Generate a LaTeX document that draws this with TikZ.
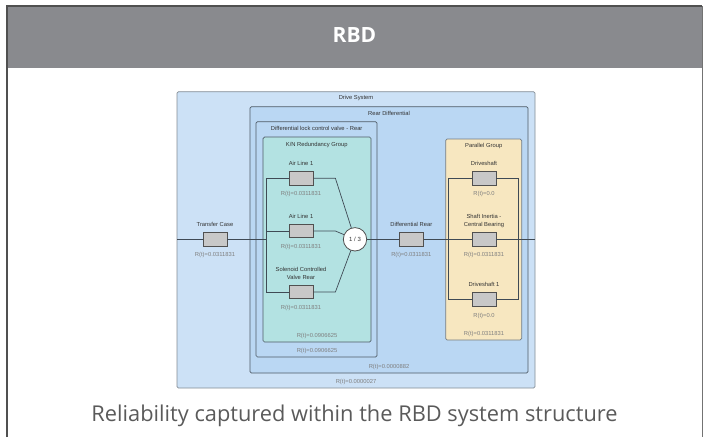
\documentclass[tikz,border=0pt]{standalone}
\usepackage{fontspec}
\setmainfont{Liberation Sans}
\newfontfamily\headfont{Open Sans}
\usetikzlibrary{positioning}
\definecolor{hdgray}{HTML}{898A8E}
\definecolor{framegray}{HTML}{505050}
\definecolor{drivefill}{HTML}{CCE1F6}
\definecolor{reardiff}{HTML}{BAD7F3}
\definecolor{knteal}{HTML}{B3E2E2}
\definecolor{parfill}{HTML}{F7E7C0}
\definecolor{compgray}{HTML}{C8C8C8}
\definecolor{grpline}{HTML}{4F5B66}
\definecolor{wiregray}{HTML}{3F4A55}
\definecolor{lblgray}{HTML}{333333}
\definecolor{valgray}{HTML}{7F7F7F}
\definecolor{capgray}{HTML}{5A5A5A}
\begin{document}
\begin{tikzpicture}[x=1pt,y=-1pt,
        comp/.style={draw=framegray,fill=compgray,line width=.8pt,minimum width=24pt,minimum height=13.3pt,inner sep=0pt},
        lbl/.style={font=\fontsize{5.8}{7.8}\selectfont,text=lblgray,align=center,inner sep=0pt,text depth=0pt},
        rval/.style={font=\fontsize{5.8}{7}\selectfont,text=valgray,inner sep=0pt,text height=4.2pt},
        grp/.style={rounded corners=1.5pt,draw=grpline,line width=.7pt},
        wire/.style={draw=wiregray,line width=.7pt}]
    \useasboundingbox (0,0) rectangle (703,437);
    \fill[hdgray] (6,6) rectangle (702,68);
    \draw[framegray,line width=2pt] (7,437) -- (7,6) -- (702,6);
    \draw[framegray!80,line width=.8pt] (702.3,6) -- (702.3,437);
    \node[font=\headfont\bfseries\fontsize{21}{24}\selectfont,text=white] (title) at (354.5,35) {RBD};
    % groups
    \draw[grp,draw=grpline!70,fill=drivefill] (177,91.7) rectangle (535,388);
    \draw[grp,fill=reardiff] (250,106.7) rectangle (528,373);
    \draw[grp,fill=reardiff] (256,121.7) rectangle (377,357);
    \draw[grp,fill=knteal] (263,137) rectangle (371,342);
    \draw[grp,draw=grpline!80,fill=parfill] (445.7,139) rectangle (521.7,340);
    \node[lbl] (drvt) at (356,97.7) {Drive System};
    \node[lbl] (rdt) at (389,113) {Rear Differential};
    \node[lbl] (dlt) at (316.7,128.3) {Differential lock control valve - Rear};
    \node[lbl] (knt) at (316.7,144) {K/N Redundancy Group};
    \node[lbl] (pgt) at (483.7,145.7) {Parallel Group};
    \node[rval] (knv) at (317,335.7) {R(t)=0.0906625};
    \node[rval] (dlv) at (317,351.3) {R(t)=0.0906625};
    \node[rval] (rdv) at (389,366.7) {R(t)=0.0000882};
    \node[rval] (drvv) at (356,381.5) {R(t)=0.0000027};
    \node[rval] (pgv) at (484,334.3) {R(t)=0.0311831};
    % blocks
    \foreach \n/\x/\y/\t/\v in {tc/215/239.3/Transfer Case/0.0311831,
            al1/301/178.3/Air Line 1/0.0311831,
            al2/301/231/Air Line 1/0.0311831,
            scv/301/292/Solenoid Controlled\\Valve Rear/0.0311831,
            dr/411.3/239.3/Differential Rear/0.0311831,
            ds/484/178.3/Driveshaft/0.0,
            si/484/239.3/Shaft Inertia -\\Central Bearing/0.0311831,
            ds1/484/299.5/Driveshaft 1/0.0}{
        \node[comp] (\n) at (\x,\y) {};
        \node[lbl,above=5.6pt of \n] (\n-t) {\t};
        \node[rval,below=6.2pt of \n] (\n-v) {R(t)=\v};
    }
    \node[circle,draw=framegray,fill=white,line width=.8pt,minimum size=23.4pt,inner sep=0pt,
        font=\fontsize{6}{7}\selectfont,text=lblgray] (kn) at (355,239.3) {1 / 3};
    \coordinate (ws) at (177,239.3);
    \coordinate (we) at (535,239.3);
    \coordinate (knin) at (266.7,239.3);
    \coordinate (pin) at (449,239.3);
    \coordinate (pout) at (518.3,239.3);
    % connectors
    \draw[wire] (ws) -- (tc) -- (knin);
    \draw[wire] (al1.west) -- ++(-22.3,0) |- (scv.west);
    \draw[wire] (al2.west) -- (al2.west -| knin);
    \draw[wire] (al1.east) -- ++(22,0) -- (kn);
    \draw[wire] (al2.east) -- ++(22,0) -- (kn);
    \draw[wire] (scv.east) -- ++(22,0) -- (kn);
    \draw[wire] (kn) -- (dr) -- (pin);
    \draw[wire] (ds.west) -- ++(-23,0) |- (ds1.west);
    \draw[wire] (ds.east) -- ++(22.3,0) |- (ds1.east);
    \draw[wire] (pin) -- (si) -- (pout) -- (we);
    \node[font=\headfont\fontsize{21.8}{24}\selectfont,text=capgray,anchor=base] (caption) at (354.5,421.7)
        {Reliability captured within the RBD system structure};
\end{tikzpicture}
\end{document}
